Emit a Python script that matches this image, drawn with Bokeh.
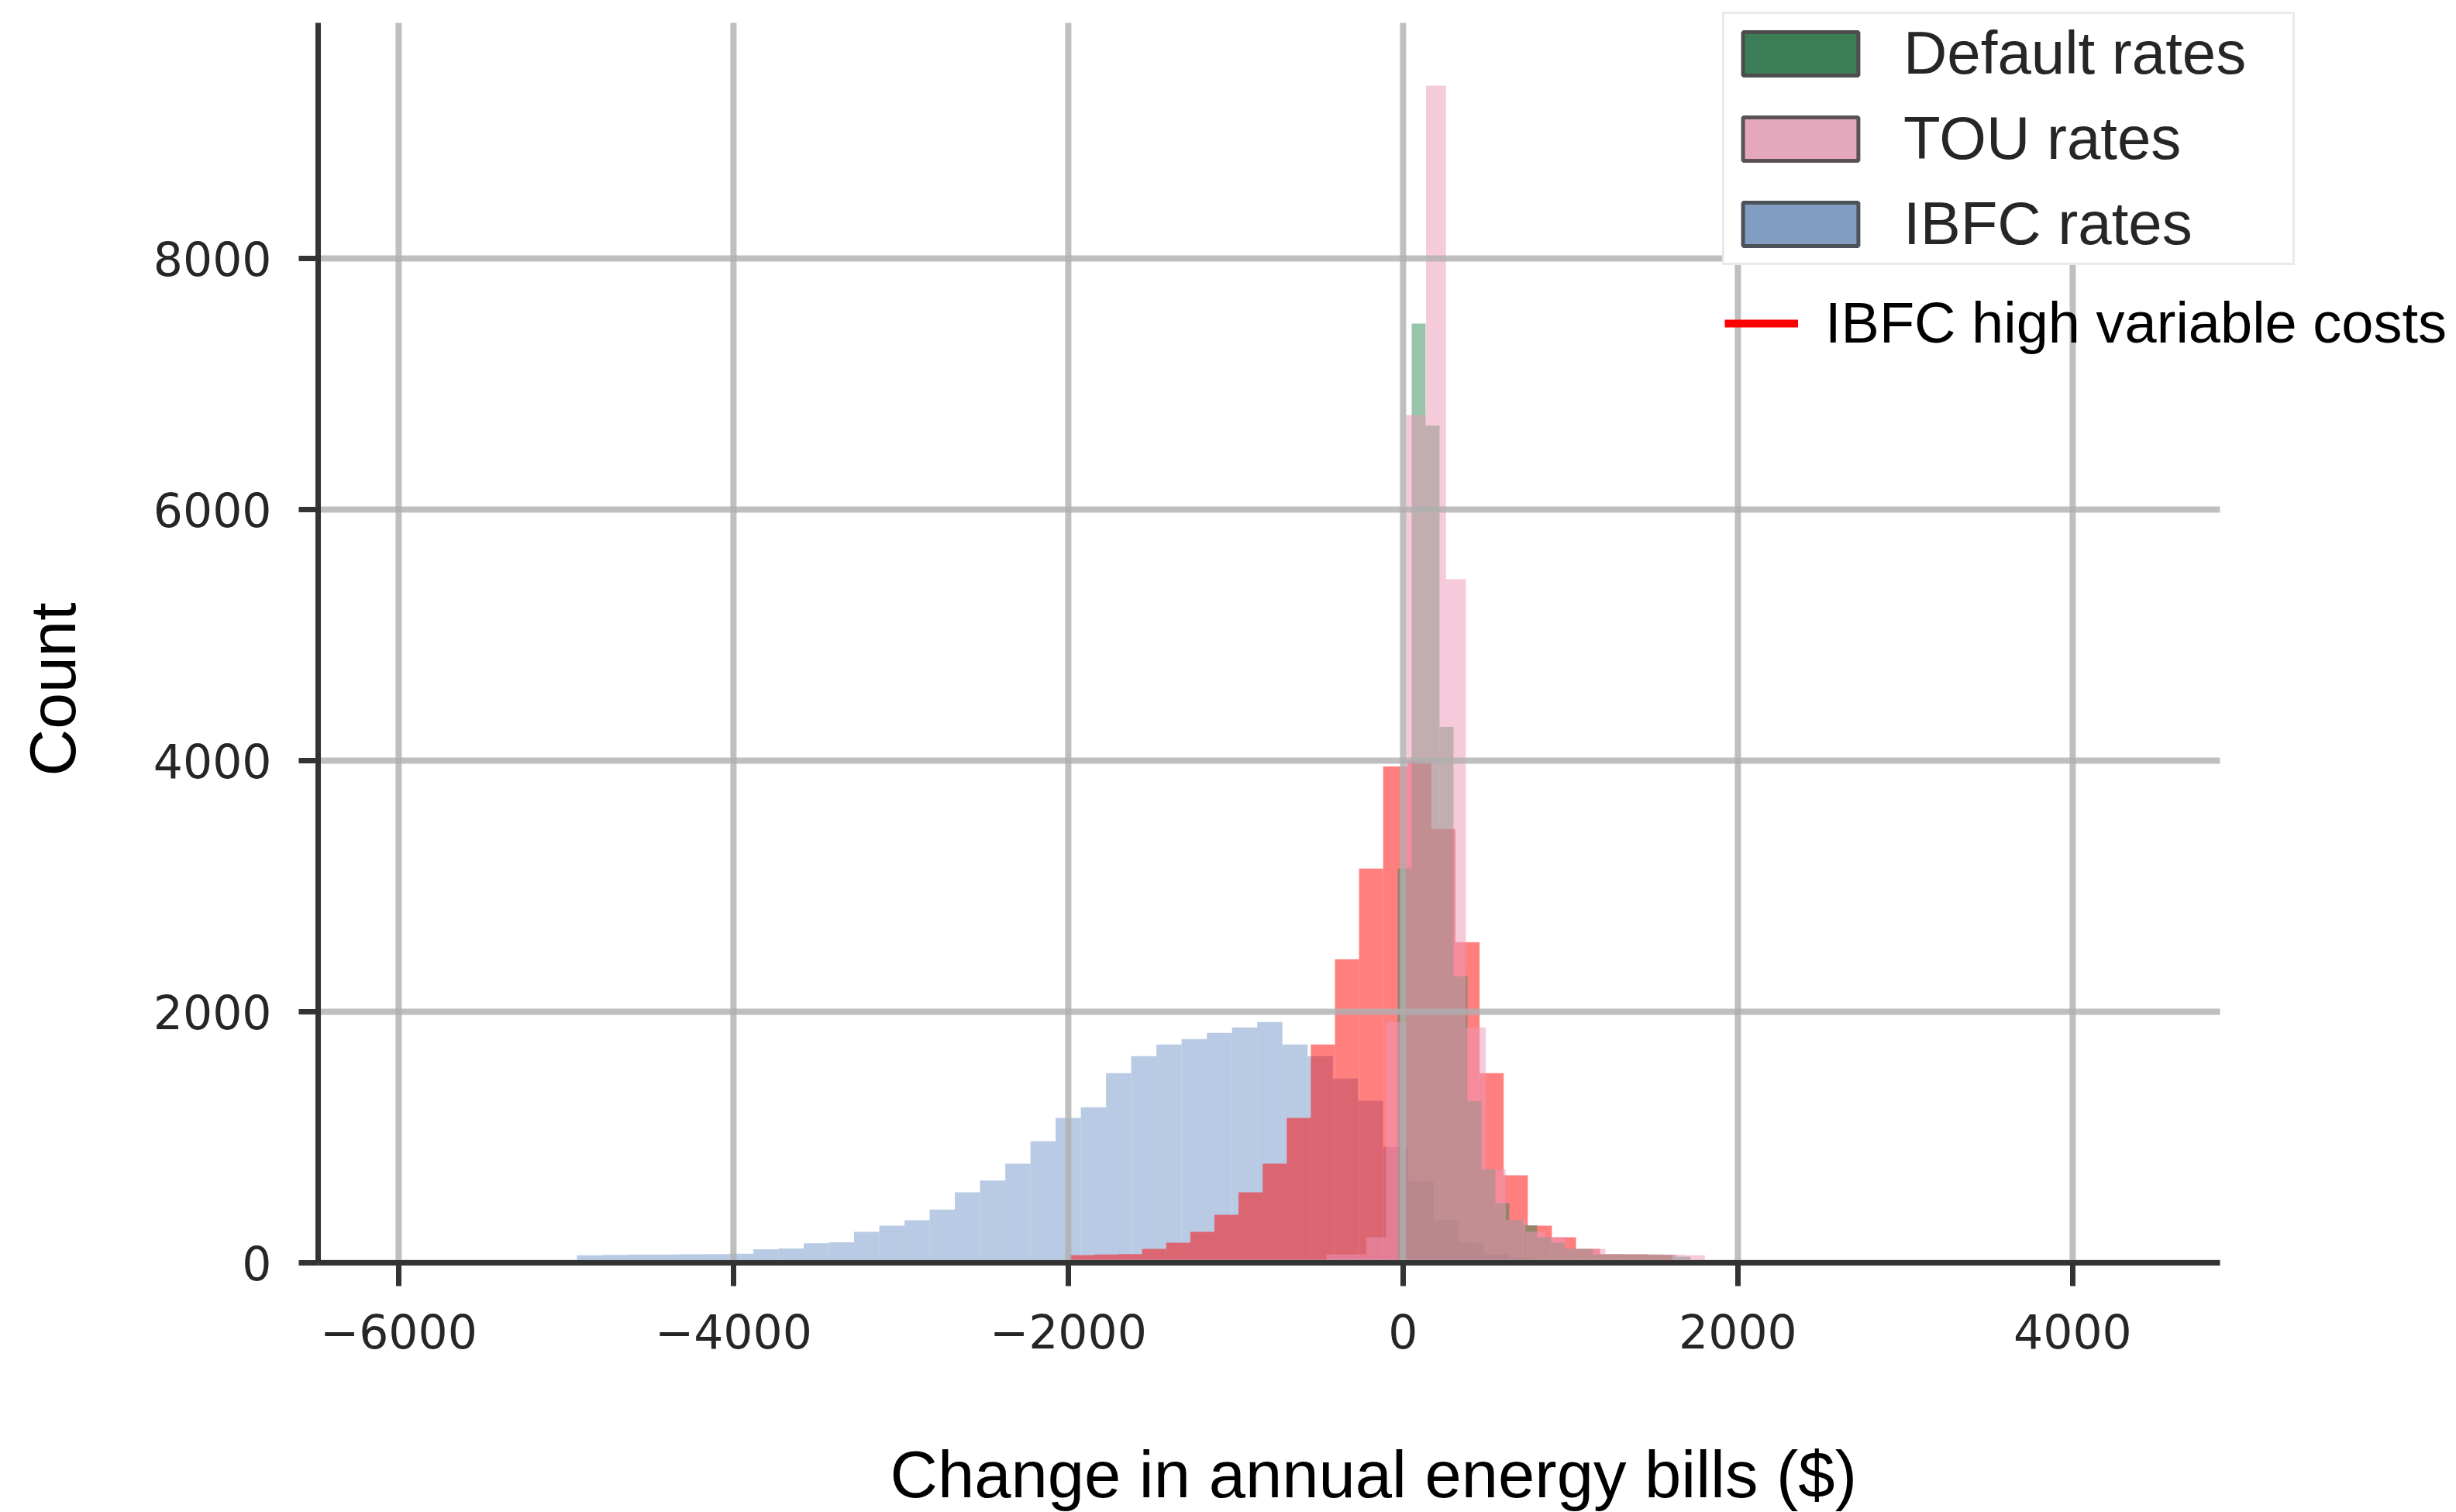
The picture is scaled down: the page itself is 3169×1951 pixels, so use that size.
from bokeh.plotting import figure
from bokeh.models import Range1d, FixedTicker, Legend, LegendItem, Title, ColumnDataSource
from bokeh.embed import file_html
from bokeh.resources import INLINE

# Histogram bins for each rate design: first bin edge ($), bin width ($), counts per bin
default_start, default_width = -32.0, 83.3
default_counts = [3140, 7482, 6668, 4268, 2282, 1289, 746, 475, 339, 300, 204,
                  160, 111, 111, 68, 68, 68, 68, 66, 64, 50]

tou_start, tou_width = -458.0, 119.0
tou_counts = [68, 68, 204, 1918, 6754, 9377, 5446, 1875, 746, 339, 247, 204,
              111, 111, 68, 68, 68, 66, 60]

ibfc_start, ibfc_width = -4935.0, 150.5
ibfc_counts = [60, 64, 66, 66, 68, 70, 72, 108, 114, 156, 164,
               247, 296, 339, 425, 561, 656, 790, 969, 1154, 1240, 1511, 1647,
               1740, 1783, 1832, 1875, 1918, 1740, 1647, 1468, 1291, 925, 654,
               339, 160, 68, 40, 24, 15, 10, 6, 4]

ibfc_high_start, ibfc_high_width = -1991.0, 144.0
ibfc_high_counts = [62, 66, 70, 111, 160, 247, 383, 561, 790, 1154, 1740, 2418,
                    3140, 3954, 4000, 3455, 2554, 1511, 697, 296, 204, 111, 68, 66, 64]

x_ticks = [-6000, -4000, -2000, 0, 2000, 4000]
y_ticks = [0, 2000, 4000, 6000, 8000]

# axis extents (spines stop here) and the wider view that leaves room for the legends
x_lo, x_hi = -6481, 4880
y_lo, y_hi = 0, 9877
view_x_hi = 6292
view_y_hi = 10056


def hist_source(start, width, counts):
    left = [start + width * i for i in range(len(counts))]
    right = [edge + width for edge in left]
    return ColumnDataSource(dict(left=left, right=right, top=counts,
                                 bottom=[0] * len(counts)))


p = figure(width=3169, height=1951, output_backend="svg", toolbar_location=None,
           x_range=Range1d(x_lo, view_x_hi), y_range=Range1d(y_lo, view_y_hi),
           min_border_left=410, min_border_right=0,
           min_border_top=0, min_border_bottom=321,
           background_fill_color="white", border_fill_color="white")
p.outline_line_color = None
p.xgrid.visible = False
p.ygrid.visible = False

# overlaid histograms, alpha-blended in drawing order
layers = [
    (ibfc_start, ibfc_width, ibfc_counts, "#7397c9"),
    (ibfc_high_start, ibfc_high_width, ibfc_high_counts, "#ff0000"),
    (default_start, default_width, default_counts, "#318955"),
    (tou_start, tou_width, tou_counts, "#eb97b7"),
]
for start, width, counts, color in layers:
    p.quad(left="left", right="right", top="top", bottom="bottom",
           source=hist_source(start, width, counts),
           fill_color=color, fill_alpha=0.5, line_color=None)

# grid lines, bounded by the axis extents
grid_style = dict(line_color="#afafaf", line_alpha=0.8, line_width=8)
p.segment(x0=[x_lo] * len(y_ticks), x1=[x_hi] * len(y_ticks), y0=y_ticks, y1=y_ticks,
          **grid_style)
p.segment(x0=x_ticks, x1=x_ticks, y0=[y_lo] * len(x_ticks), y1=[y_hi] * len(x_ticks),
          **grid_style)

# axes
p.xaxis.ticker = FixedTicker(ticks=x_ticks)
p.yaxis.ticker = FixedTicker(ticks=y_ticks)
p.xaxis.bounds = (x_lo, x_hi)
p.yaxis.bounds = (y_lo, y_hi)
p.xaxis.major_label_overrides = {t: (str(t) if t >= 0 else "\u2212" + str(-t)) for t in x_ticks}
for ax in (p.xaxis, p.yaxis):
    ax.axis_line_color = "#333333"
    ax.axis_line_width = 7
    ax.major_tick_line_color = "#333333"
    ax.major_tick_line_width = 7
    ax.major_tick_in = 0
    ax.minor_tick_in = 0
    ax.minor_tick_out = 0
    ax.major_label_text_font = "DejaVu Sans"
    ax.major_label_text_font_size = "60px"
    ax.major_label_text_color = "#262626"
    # blank axis label used only as spacing before the outer titles
    ax.axis_label = " "
    ax.axis_label_text_font_size = "1px"
p.xaxis.major_tick_out = 30
p.xaxis.major_label_standoff = 35
p.xaxis.axis_label_standoff = 108
p.yaxis.major_tick_out = 25
p.yaxis.major_label_standoff = 35
p.yaxis.axis_label_standoff = 74

# axis titles
p.add_layout(Title(text="Change in annual energy bills ($)", align="left", offset=738,
                   vertical_align="top", standoff=0,
                   text_font="Liberation Sans", text_font_size="85px",
                   text_font_style="normal", text_color="black"), "below")
p.add_layout(Title(text="Count", align="left", offset=628,
                   vertical_align="top", standoff=0,
                   text_font="Liberation Sans", text_font_size="84px",
                   text_font_style="normal", text_color="black"), "left")

# legend swatches (no visible data of their own)
nan = float("nan")
proxy = dict(left=[nan], right=[nan], top=[nan], bottom=[nan])
sw_default = p.quad(left="left", right="right", top="top", bottom="bottom",
                    source=ColumnDataSource(proxy), fill_color="#3b7d55",
                    line_color="#4d4d4d", line_width=5)
sw_tou = p.quad(left="left", right="right", top="top", bottom="bottom",
                source=ColumnDataSource(proxy), fill_color="#e4a7bb",
                line_color="#5a5256", line_width=5)
sw_ibfc = p.quad(left="left", right="right", top="top", bottom="bottom",
                 source=ColumnDataSource(proxy), fill_color="#819dc1",
                 line_color="#4d5159", line_width=5)
sw_high = p.line(x=[nan], y=[nan], line_color="#ff0000", line_width=10)

legend_main = Legend(items=[LegendItem(label="Default rates", renderers=[sw_default]),
                            LegendItem(label="TOU rates", renderers=[sw_tou]),
                            LegendItem(label="IBFC rates", renderers=[sw_ibfc])],
                     location=(1812, 1287), margin=0, padding=5, spacing=19,
                     glyph_width=186, glyph_height=70, label_standoff=40, label_width=497,
                     label_text_font="Liberation Sans", label_text_font_size="78px",
                     label_text_color="#262626",
                     border_line_color="#d5d5d5", border_line_width=3,
                     background_fill_color="white", background_fill_alpha=1.0)
p.add_layout(legend_main)

legend_high = Legend(items=[LegendItem(label="IBFC high variable costs", renderers=[sw_high])],
                     location=(1815, 1170), margin=0, padding=0, spacing=0,
                     glyph_width=95, glyph_height=84, label_standoff=35,
                     label_text_font="Liberation Sans", label_text_font_size="74px",
                     label_text_color="black",
                     border_line_alpha=0, background_fill_alpha=0)
p.add_layout(legend_high)

open("out.html", "w").write(file_html(p, INLINE))
